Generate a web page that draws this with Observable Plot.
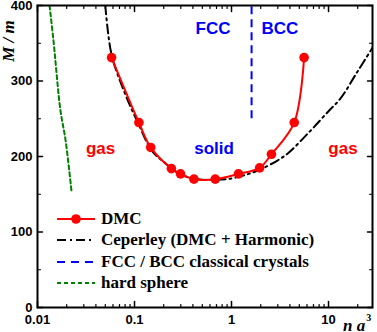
<!DOCTYPE html>
<html><head><meta charset="utf-8">
<script src="https://cdn.jsdelivr.net/npm/d3@7"></script>
<script src="https://cdn.jsdelivr.net/npm/@observablehq/plot@0.6"></script>
<style>
body{margin:0;background:#fff;}
#wrap{position:relative;width:377px;height:332px;overflow:hidden;background:#fff;}
#legend{position:absolute;left:57px;top:208px;font-family:"Liberation Serif","Times New Roman",serif;font-weight:bold;font-size:17px;color:#000;}
.row{height:21.5px;display:flex;align-items:center;white-space:nowrap;}
.row svg{margin-right:6px;flex:none;}
</style></head><body><div id="wrap"></div>
<script>
// DMC results
const dmcX = [0.058, 0.111, 0.147, 0.240, 0.298, 0.41, 0.68, 1.18, 1.95, 2.58, 4.43, 5.6];
const dmcY = [331, 245, 212, 184, 177, 170, 170, 177, 185, 203, 245, 331];
// Ceperley (DMC + Harmonic)
const cepX = [0.050, 0.058, 0.08, 0.11, 0.15, 0.2, 0.3, 0.45, 0.6, 1.0, 1.5, 2.0, 3.0, 3.8, 6.5, 10, 13.3, 20, 28.4];
const cepY = [400, 335, 283, 243, 208, 193, 176, 170, 169, 171, 177, 183, 195, 204, 234, 260, 277, 313, 344];
// hard sphere
const hsX = [0.0133, 0.0146, 0.0172, 0.0195, 0.0225];
const hsY = [400, 354, 262, 221, 152];
// FCC / BCC boundary
const fccBccX = [1.61];
const fccBccY1 = [250];
const fccBccY2 = [400];
// region labels
const regionText = ["gas", "solid", "gas", "FCC", "BCC"];
const regionX = [0.0447, 0.66, 14.1, 0.644, 3.16];
const regionY = [211, 211, 211, 370, 370];
const regionColor = ["#ff0000", "#0000ff", "#ff0000", "#0000ff", "#0000ff"];
// ticks
const xMajor = [0.01, 0.1, 1, 10];
const xMinor = [0.02, 0.03, 0.04, 0.05, 0.06, 0.07, 0.08, 0.09, 0.2, 0.3, 0.4, 0.5, 0.6, 0.7, 0.8, 0.9, 2, 3, 4, 5, 6, 7, 8, 9, 20];
const xTickLabels = ["0.01", "0.1", "1", "10"];
const yMajor = [0, 100, 200, 300, 400];
const yMinor = [50, 150, 250, 350];
const xMin = 0.01, xMax = 28.4, yMin = 0, yMax = 400;
// legend
const legendLabels = ["DMC", "Ceperley (DMC + Harmonic)", "FCC / BCC classical crystals", "hard sphere"];
const legendColors = ["#ff0000", "#000000", "#0000ff", "#008000"];
const legendDash = ["none", "9,4,2,4", "8,6", "4,3"];

const dmc = dmcX.map((x, i) => ({x, y: dmcY[i]}));
const cep = cepX.map((x, i) => ({x, y: cepY[i]}));
const hs = hsX.map((x, i) => ({x, y: hsY[i]}));
const fb = fccBccX.map((x, i) => ({x, y1: fccBccY1[i], y2: fccBccY2[i]}));
const regions = regionText.map((t, i) => ({t, x: regionX[i], y: regionY[i], c: regionColor[i]}));

const tickShape = {draw(context, l) { context.moveTo(0, 0); context.lineTo(0, -l); }};
function ticks(data, opts) {
  return Plot.vector(data, {anchor: "start", shape: tickShape, stroke: "#000", ...opts});
}

const chart = Plot.plot({
  width: 377, height: 332,
  marginLeft: 37, marginRight: 5, marginTop: 5, marginBottom: 25,
  x: {type: "log", domain: [xMin, xMax]},
  y: {domain: [yMin, yMax]},
  style: {fontFamily: "'Liberation Sans', Arial, sans-serif", fontSize: "13px", fontWeight: "bold", color: "#000", background: "#fff"},
  marks: [
    Plot.line(hs, {x: "x", y: "y", stroke: "#008000", strokeWidth: 2, strokeDasharray: "4,3", curve: "catmull-rom", clip: true}),
    Plot.line(cep, {x: "x", y: "y", stroke: "#000", strokeWidth: 2, strokeDasharray: "9,4,2,4", curve: "catmull-rom", clip: true}),
    Plot.ruleX(fb, {x: "x", y1: "y1", y2: "y2", stroke: "#0000ff", strokeWidth: 2, strokeDasharray: "8,5"}),
    Plot.line(dmc, {x: "x", y: "y", stroke: "#ff0000", strokeWidth: 2, curve: "catmull-rom"}),
    Plot.dot(dmc, {x: "x", y: "y", r: 4.8, fill: "#ff0000"}),
    Plot.text(regions, {x: "x", y: "y", text: "t", fill: "c", fontSize: 17, fontWeight: "bold", fontFamily: "'Liberation Sans', Arial, sans-serif"}),
    // inward ticks: bottom, top, left, right
    ticks(xMajor, {x: d => d, y: () => yMin, length: 6, rotate: 0, strokeWidth: 1.5}),
    ticks(xMinor, {x: d => d, y: () => yMin, length: 3, rotate: 0, strokeWidth: 1.2}),
    ticks(xMajor, {x: d => d, y: () => yMax, length: 6, rotate: 180, strokeWidth: 1.5}),
    ticks(xMinor, {x: d => d, y: () => yMax, length: 3, rotate: 180, strokeWidth: 1.2}),
    ticks(yMajor, {x: () => xMin, y: d => d, length: 5, rotate: 90, strokeWidth: 1.5}),
    ticks(yMinor, {x: () => xMin, y: d => d, length: 3, rotate: 90, strokeWidth: 1.2}),
    ticks(yMajor, {x: () => xMax, y: d => d, length: 5, rotate: -90, strokeWidth: 1.5}),
    ticks(yMinor, {x: () => xMax, y: d => d, length: 3, rotate: -90, strokeWidth: 1.2}),
    Plot.axisX(xMajor, {anchor: "bottom", tickSize: 0, tickPadding: 7, label: null, tickFormat: d => xTickLabels[xMajor.indexOf(d)]}),
    Plot.axisY(yMajor, {anchor: "left", tickSize: 0, tickPadding: 5, label: null}),
    Plot.frame({stroke: "#000", strokeWidth: 2})
  ]
});

const svg = d3.select(chart);
svg.append("text")
  .attr("transform", "translate(14,41) rotate(-90)")
  .attr("text-anchor", "middle")
  .style("font-family", "'Liberation Serif', 'Times New Roman', serif")
  .style("font-style", "italic").style("font-weight", "bold").style("font-size", "17px")
  .text("M / m");
const xl = svg.append("text")
  .attr("x", 343).attr("y", 331)
  .attr("text-anchor", "start")
  .style("text-anchor", "start")
  .style("font-family", "'Liberation Serif', 'Times New Roman', serif")
  .style("font-style", "italic").style("font-weight", "bold").style("font-size", "17px")
  .text("n a");
xl.append("tspan").attr("dx", 1).attr("dy", -10).style("font-size", "10px").style("font-style", "normal").text("3");

const wrap = document.getElementById("wrap");
wrap.appendChild(chart);
const legend = document.createElement("div");
legend.id = "legend";
legendLabels.forEach((lab, i) => {
  const row = document.createElement("div");
  row.className = "row";
  let sw = `<svg width="38" height="12"><line x1="0" x2="38" y1="6" y2="6" stroke="${legendColors[i]}" stroke-width="2" ${legendDash[i] !== "none" ? `stroke-dasharray="${legendDash[i]}"` : ""}/>`;
  if (i === 0) sw += `<circle cx="19" cy="6" r="4.8" fill="${legendColors[i]}"/>`;
  sw += `</svg>`;
  row.innerHTML = sw + `<span>${lab}</span>`;
  legend.appendChild(row);
});
wrap.appendChild(legend);
</script></body></html>
